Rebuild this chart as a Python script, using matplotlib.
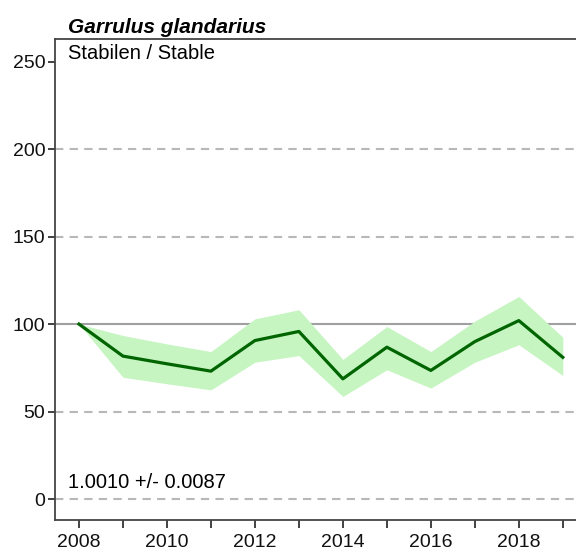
import numpy as np
import matplotlib
matplotlib.use("Agg")
import matplotlib.pyplot as plt

plt.rcParams['font.family'] = ['Liberation Sans', 'DejaVu Sans']

years = [2008, 2009, 2010, 2011, 2012, 2013, 2014, 2015, 2016, 2017, 2018, 2019]
index = [100, 81.7, 77.3, 73.1, 90.6, 95.8, 68.7, 86.8, 73.5, 90, 102, 81]
upper = [100, 93.5, 88.7, 84.3, 103, 108.2, 79.8, 98.6, 84.3, 101.7, 115.8, 92.5]
lower = [100, 69.6, 65.9, 62.4, 78.2, 82, 58.6, 73.9, 63.4, 78.2, 88.2, 70.6]
yticks = [0, 50, 100, 150, 200, 250]

fig = plt.figure(figsize=(5.76, 5.52), dpi=100)
ax = fig.add_axes([55/576, 32/552, 1 - 55/576, 481/552])

for v in [0, 50, 150, 200]:
    ax.axhline(v, color='#b8b8b8', lw=1.5, ls=(0, (4, 3)), zorder=1)
ax.axhline(100, color='#a0a0a0', lw=1.5, zorder=1)

ax.fill_between(years, lower, upper, color='#c6f5c2', lw=0, zorder=2)
ax.plot(years, index, color='#006400', lw=2.3, zorder=3)

ax.set_xlim(2007.455, 2019.3)
ax.set_ylim(-12.0, 263)
ax.set_yticks(yticks)
ax.set_xticks(range(2008, 2020))
ax.set_xticklabels([str(y) if y % 2 == 0 else '' for y in range(2008, 2020)])
ax.tick_params(axis='both', direction='out', width=1.3, colors='#333333',
               labelsize=14, labelcolor='#111111')
ax.tick_params(axis='y', length=5, pad=2)
ax.tick_params(axis='x', length=6, pad=4)

ax.spines['right'].set_visible(False)
for s in ['left', 'top', 'bottom']:
    ax.spines[s].set_color('#444444')
    ax.spines[s].set_linewidth(1.3)

ax.text(13/521, 1 + 6/481, 'Garrulus glandarius', transform=ax.transAxes,
        fontsize=15, fontweight='bold', fontstyle='italic', ha='left', va='baseline')
ax.text(13/521, 1 - 5/481, 'Stabilen / Stable', transform=ax.transAxes,
        fontsize=14.5, ha='left', va='top')
ax.text(13/521, 38/481, '1.0010 +/- 0.0087', transform=ax.transAxes,
        fontsize=14.5, ha='left', va='center')

fig.savefig('out.png', dpi=100)
